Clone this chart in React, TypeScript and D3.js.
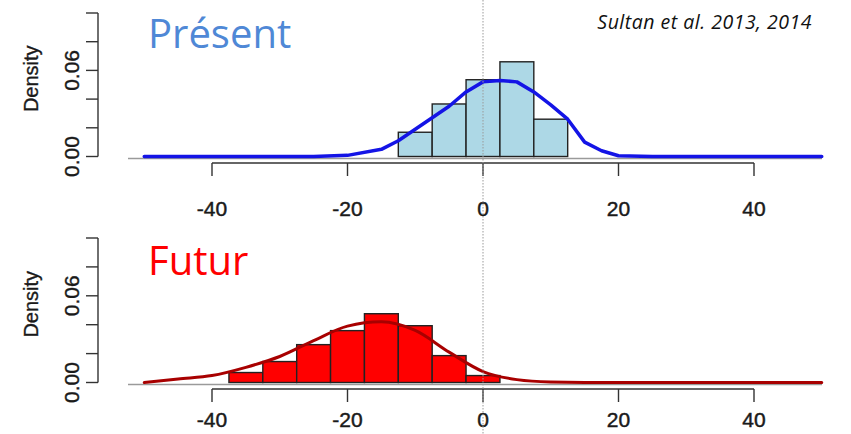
import React from "react";
import * as d3 from "d3";

const xTickValues = [-40, -20, 0, 20, 40];
const yTickValues = [0, 0.02, 0.04, 0.06, 0.08, 0.1];
const yLabelValues = [0, 0.06];
const binWidth = 5;

const presentBinStarts = [-17.5, -12.5, -7.5, -2.5, 2.5, 7.5, 12.5];
const presentDensity = [0, 0.0169, 0.0366, 0.0535, 0.066, 0.026, 0];
const presentCurveX = [-50, -40, -30, -25, -20, -15, -12.5, -10, -7.5, -5, -2.5, 0, 2.5, 5, 7.5, 10, 12.5, 15, 17.5, 20, 25, 30, 40, 50];
const presentCurveY = [0, 0, 0, 0, 0.0008, 0.005, 0.011, 0.019, 0.027, 0.035, 0.045, 0.052, 0.053, 0.052, 0.045, 0.036, 0.026, 0.01, 0.004, 0.0005, 0, 0, 0, 0];

const futurBinStarts = [-37.5, -32.5, -27.5, -22.5, -17.5, -12.5, -7.5, -2.5, 2.5];
const futurDensity = [0.0069, 0.0145, 0.0262, 0.0359, 0.0476, 0.0393, 0.0186, 0.0048, 0];
const futurCurveX = [-50, -45, -40, -35, -30, -25, -20, -15, -10, -5, 0, 5, 10, 15, 20, 30, 40, 50];
const futurCurveY = [0, 0.0025, 0.0048, 0.0105, 0.018, 0.029, 0.039, 0.042, 0.036, 0.021, 0.0076, 0.002, 0.0003, 0, 0, 0, 0, 0];

const W = 851;
const H = 434;
const x = d3.scaleLinear().domain([-40, 40]).range([212, 754]);
const axisFont = "'Liberation Sans', Arial, sans-serif";

type PanelProps = {
  y0: number;
  yTop: number;
  axisY: number;
  labelY: number;
  binStarts: number[];
  density: number[];
  curveX: number[];
  curveY: number[];
  fill: string;
  lineColor: string;
  lineWidth: number;
  curve: d3.CurveFactory;
};

function Panel(p: PanelProps) {
  const y = d3.scaleLinear().domain([0, 0.1]).range([p.y0, p.yTop]);
  const pts: [number, number][] = p.curveX.map((v, i) => [v, p.curveY[i]]);
  const line = d3
    .line<[number, number]>()
    .x((d) => x(d[0]))
    .y((d) => y(d[1]))
    .curve(p.curve);
  const axisX = 98;
  return (
    <g>
      <line x1={128} x2={822} y1={p.y0 + 2} y2={p.y0 + 2} stroke="#9a9a9a" strokeWidth={1.6} />
      {p.binStarts.map((b, i) => {
        const h = p.y0 - y(p.density[i]);
        return (
          <rect
            key={i}
            x={x(b)}
            y={y(p.density[i])}
            width={x(b + binWidth) - x(b)}
            height={h}
            fill={p.fill}
            stroke="#222"
            strokeWidth={1.4}
          />
        );
      })}
      <path d={line(pts) || ""} fill="none" stroke={p.lineColor} strokeWidth={p.lineWidth} strokeLinejoin="round" strokeLinecap="round" />
      <line x1={x(xTickValues[0])} x2={x(xTickValues[xTickValues.length - 1])} y1={p.axisY} y2={p.axisY} stroke="#333" strokeWidth={1.4} />
      {xTickValues.map((t) => (
        <g key={t}>
          <line x1={x(t)} x2={x(t)} y1={p.axisY} y2={p.axisY + 13} stroke="#333" strokeWidth={1.4} />
          <text x={x(t)} y={p.labelY} textAnchor="middle" dominantBaseline="central" fontFamily={axisFont} fontSize={21} fill="#1a1a1a" stroke="#1a1a1a" strokeWidth={0.45}>
            {t}
          </text>
        </g>
      ))}
      <line x1={axisX} x2={axisX} y1={y(0)} y2={y(0.1)} stroke="#333" strokeWidth={1.4} />
      {yTickValues.map((t) => (
        <line key={t} x1={axisX - 12} x2={axisX} y1={y(t)} y2={y(t)} stroke="#333" strokeWidth={1.4} />
      ))}
      {yLabelValues.map((t) => (
        <text
          key={t}
          transform={`translate(71,${y(t)}) rotate(-90)`}
          textAnchor="middle"
          dominantBaseline="central"
          fontFamily={axisFont}
          fontSize={21}
          fill="#1a1a1a"
          stroke="#1a1a1a"
          strokeWidth={0.4}
        >
          {t.toFixed(2)}
        </text>
      ))}
      <text
        transform={`translate(31,${(y(0) + y(0.1)) / 2 - 6}) rotate(-90)`}
        textAnchor="middle"
        dominantBaseline="central"
        fontFamily={axisFont}
        fontSize={20}
        fill="#1a1a1a"
        stroke="#1a1a1a"
        strokeWidth={0.35}
      >
        Density
      </text>
    </g>
  );
}

export default function App() {
  return (
    <svg width={W} height={H} style={{ position: "absolute", left: 0, top: 0, background: "#fff" }}>
      <rect x={0} y={0} width={W} height={H} fill="#fff" />
      <Panel
        y0={156.5}
        yTop={13}
        axisY={163}
        labelY={208}
        binStarts={presentBinStarts}
        density={presentDensity}
        curveX={presentCurveX}
        curveY={presentCurveY}
        fill="#add8e6"
        lineColor="#1414e6"
        lineWidth={3.5}
        curve={d3.curveLinear}
      />
      <Panel
        y0={382.5}
        yTop={238}
        axisY={389}
        labelY={419}
        binStarts={futurBinStarts}
        density={futurDensity}
        curveX={futurCurveX}
        curveY={futurCurveY}
        fill="#ff0000"
        lineColor="#a80000"
        lineWidth={3}
        curve={d3.curveMonotoneX}
      />
      <line x1={x(0)} x2={x(0)} y1={0} y2={H} stroke="#9a9a9a" strokeWidth={1} strokeDasharray="1.5,1.5" />
      <text x={148} y={48} fontFamily="'Open Sans', sans-serif" fontSize={40} fill="#4f88d6">
        Présent
      </text>
      <text x={148} y={275} fontFamily="'Open Sans', sans-serif" fontSize={40} fill="#ff0000">
        Futur
      </text>
      <text x={812} y={29} textAnchor="end" fontFamily="'Open Sans', sans-serif" fontStyle="italic" fontSize={19.5} letterSpacing={0.5} fill="#111">
        Sultan et al. 2013, 2014
      </text>
    </svg>
  );
}
